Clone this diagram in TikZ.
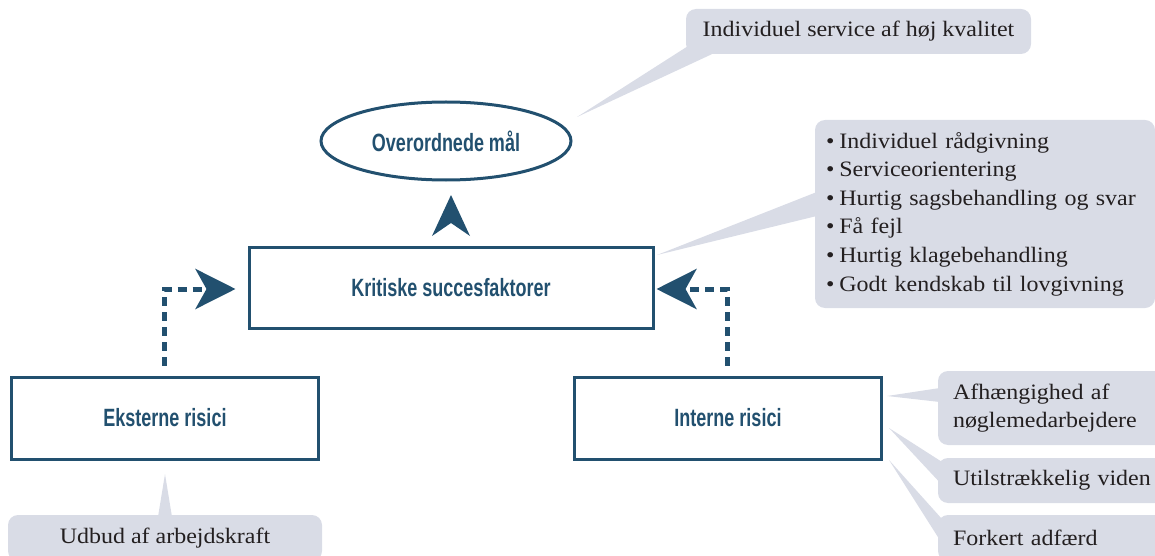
\documentclass[tikz,border=0pt]{standalone}
\usepackage{fontspec}
\setmainfont[FakeStretch=1.09]{Liberation Serif}
\newfontfamily\condfont[FakeStretch=0.72]{Liberation Sans}
\usetikzlibrary{shapes.geometric,arrows.meta,calc}
\definecolor{navy}{HTML}{22506F}
\definecolor{callgray}{HTML}{D9DCE6}
\definecolor{txt}{HTML}{231F20}
\newcommand{\bitem}{\textbullet\hspace{5pt}}
\begin{document}
\begin{tikzpicture}[x=1pt,y=-1pt,
  mainbox/.style={draw=navy, line width=3pt, fill=white, text=navy,
    font=\condfont\bfseries\fontsize{25}{28}\selectfont, inner sep=0pt},
  callbox/.style={fill=callgray, rounded corners=10pt, text=txt,
    font=\fontsize{22}{28.6}\selectfont, inner sep=0pt},
  tail/.style={fill=callgray},
  dotline/.style={draw=navy, line width=5pt, dash pattern=on 9pt off 6pt},
  bighead/.style={-{Stealth[length=40pt,width=40pt,inset=11pt]}},
  headfill/.style={fill=navy}]
\useasboundingbox (0,0) rectangle (1155,556);
\clip (0,0) rectangle (1155,556);
% main nodes
\node[mainbox, ellipse, minimum width=250pt, minimum height=78pt] (goal) at (446,141) {Overordnede mål};
\node[mainbox, minimum width=404pt, minimum height=81pt] (ksf) at (451,288) {Kritiske succesfaktorer};
\node[mainbox, minimum width=307pt, minimum height=82pt] (eks) at (165,418) {Eksterne risici};
\node[mainbox, minimum width=307pt, minimum height=82pt] (int) at (728,418) {Interne risici};
% callouts
\node[callbox, minimum width=345pt, minimum height=45pt] (topc) at (858.5,31.5) {Individuel service af høj kvalitet};
\node[callbox, text width=318pt, inner xsep=11pt, minimum height=188pt, align=left] (bul) at (985,214)
  {\bitem Individuel rådgivning\\
   \bitem Serviceorientering\\
   \bitem Hurtig sagsbehandling og svar\\
   \bitem Få fejl\\
   \bitem Hurtig klagebehandling\\
   \bitem Godt kendskab til lovgivning};
\node[callbox, text width=202pt, inner xsep=15pt, minimum height=74pt, align=left] (afh) at (1054,408)
  {Afhængighed af\\nøglemedarbejdere};
\node[callbox, text width=202pt, inner xsep=15pt, minimum height=45pt, align=left] (uti) at (1054,480.5)
  {Utilstrækkelig viden};
\node[callbox, text width=202pt, inner xsep=15pt, minimum height=46pt, align=left] (fork) at (1054,538)
  {Forkert adfærd};
\node[callbox, minimum width=314pt, minimum height=46pt] (udb) at (165,538) {Udbud af arbejdskraft};
% tails
\coordinate (tg) at (577,117);
\fill[tail] (tg) -- ($(topc.south west)+(2,-8)$) -- ($(topc.south west)+(26,0)$) -- cycle;
\coordinate (tk) at (657,255);
\fill[tail] (tk) -- ($(bul.west)+(2,-22)$) -- ($(bul.west)+(2,2)$) -- cycle;
\coordinate (ta) at (887,396);
\fill[tail] (ta) -- ($(afh.west)+(2,-20)$) -- ($(afh.west)+(2,-6)$) -- cycle;
\coordinate (tu) at (889,428);
\fill[tail] (tu) -- ($(uti.north west)+(4,4)$) -- ($(uti.west)+(2,2)$) -- cycle;
\coordinate (tf) at (889,460);
\fill[tail] (tf) -- ($(fork.north west)+(4,4)$) -- ($(fork.west)+(2,2)$) -- cycle;
\coordinate (te) at (165,474);
\fill[tail] (te) -- ($(udb.north)+(-7,2)$) -- ($(udb.north)+(7,2)$) -- cycle;
% connectors
\coordinate (uptip) at ($(ksf.north)+(0,-51)$);
\fill[headfill] (uptip) -- ($(uptip)+(-19,41)$) -- ($(uptip)+(0,28)$) -- ($(uptip)+(19,41)$) -- cycle;
\draw[dotline, bighead] ($(eks.north)+(-1,-10)$) |- ($(ksf.west)+(-12,1)$);
\draw[dotline, bighead] ($(int.north)+(-1,-10)$) |- ($(ksf.east)+(2,1)$);
\end{tikzpicture}
\end{document}
